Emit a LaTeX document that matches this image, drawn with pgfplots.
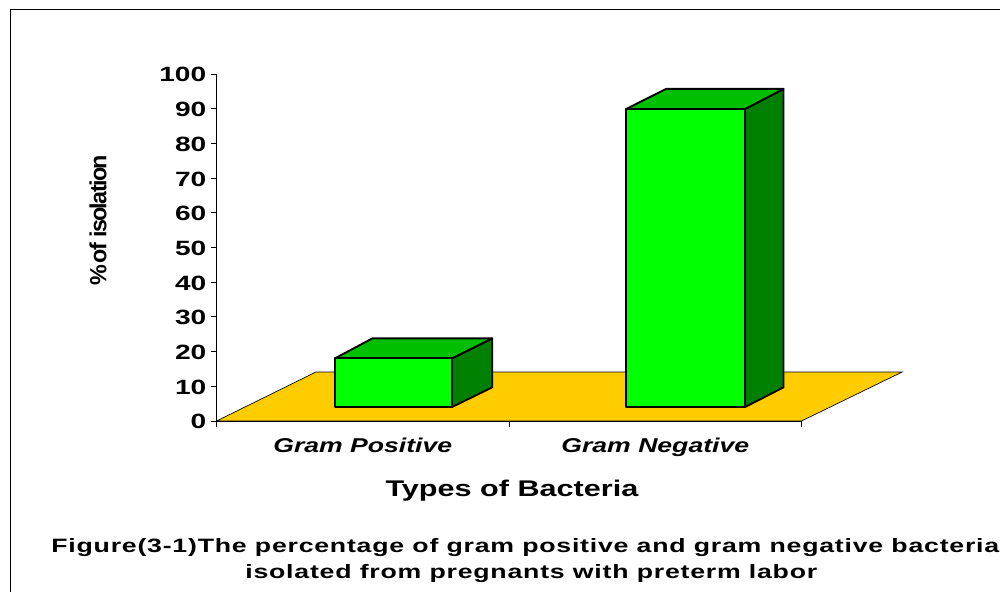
\documentclass[border=0pt]{standalone}
\usepackage{pgfplots}
\pgfplotsset{compat=1.18}
\usepackage{fontspec}
\setmainfont{Liberation Sans}
\newfontfamily\tickf[FakeStretch=1.36]{Liberation Sans}
\newfontfamily\catf[FakeStretch=1.33]{Liberation Sans}
\newfontfamily\titf[FakeStretch=1.35]{Liberation Sans}
\newfontfamily\capf[FakeStretch=1.38,LetterSpace=4]{Liberation Sans}
\newfontfamily\ylabf[LetterSpace=-7]{Liberation Sans}
\definecolor{floorc}{HTML}{FFCC00}
\definecolor{frontc}{HTML}{00FF00}
\definecolor{topc}{HTML}{00BF00}
\definecolor{sidec}{HTML}{008000}
\begin{document}
\begin{tikzpicture}
\path[use as bounding box,clip] (0,0) rectangle (750pt,-444pt);
\draw[line width=0.75pt] (7.5pt,-444pt) -- (7.5pt,-7.5pt) -- (750pt,-7.5pt);
\begin{axis}[
  at={(162.4pt,-315.75pt)}, anchor=south west,
  scale only axis, width=438.75pt, height=260.25pt,
  xmin=-0.5, xmax=1.5, ymin=0, ymax=100,
  axis lines=left, axis line style={-,line width=0.7pt},
  axis on top, clip=false,
  tick align=outside,
  major tick length=4.5pt,
  tick style={black,line width=0.7pt},
  ytick={0,10,...,100},
  xtick={-0.5,0.5,1.5}, xticklabels={,,},
  extra x ticks={0,1}, extra x tick labels={Gram Positive,Gram Negative},
  extra x tick style={major tick length=0pt},
  y tick label style={font=\fontsize{15.5}{16}\tickf\bfseries, inner sep=1pt, xshift=-2pt, yshift=-0.6pt},
  /pgf/number format/assume math mode=true,
  x tick label style={font=\fontsize{15}{16}\catf\bfseries\itshape, yshift=-9.5pt},
  ylabel={\%\hspace{-0.15em} of isolation},
  ylabel style={at={(axis description cs:-0.2026,0.579)},anchor=center,font=\fontsize{17.5}{19}\ylabf\bfseries},
  xlabel={Types of Bacteria},
  xlabel style={at={(axis description cs:0.505,-0.2)},anchor=center,font=\fontsize{17}{18}\titf\bfseries},
]
% floor
\addplot[fill=floorc,draw=black,line width=0.5pt] coordinates {(-0.5,0) (1.5,0) (1.844,14.12) (-0.16,14.12)} --cycle;
% Gram Positive: front value 14.04 above the floor offset 4.03
\addplot[fill=sidec,draw=black,line width=1.4pt,line join=round] coordinates {(0.3051,4.03) (0.4425,9.7) (0.4425,23.8) (0.3051,18.07)} --cycle;
\addplot[fill=topc,draw=black,line width=1.4pt,line join=round] coordinates {(-0.0949,18.07) (0.0325,23.8) (0.4425,23.8) (0.3051,18.07)} --cycle;
\addplot[fill=frontc,draw=black,line width=1.4pt,line join=round] coordinates {(-0.0949,4.03) (0.3051,4.03) (0.3051,18.07) (-0.0949,18.07)} --cycle;
% Gram Negative: front value 85.87 above the floor offset 4.03
\addplot[fill=sidec,draw=black,line width=1.4pt,line join=round] coordinates {(1.3068,4.03) (1.4385,9.7) (1.4385,95.7) (1.3068,89.9)} --cycle;
\addplot[fill=topc,draw=black,line width=1.4pt,line join=round] coordinates {(0.9,89.9) (1.037,95.7) (1.4385,95.7) (1.3068,89.9)} --cycle;
\addplot[fill=frontc,draw=black,line width=1.4pt,line join=round] coordinates {(0.9,4.03) (1.3068,4.03) (1.3068,89.9) (0.9,89.9)} --cycle;
\end{axis}
\node[anchor=center,font=\fontsize{14.5}{16}\capf\bfseries] at (394pt,-410.5pt) {Figure(3-1)The percentage of gram positive and gram negative bacteria};
\node[anchor=center,font=\fontsize{14.5}{16}\capf\bfseries] at (398.5pt,-430pt) {isolated from pregnants with preterm labor};
\end{tikzpicture}
\end{document}
